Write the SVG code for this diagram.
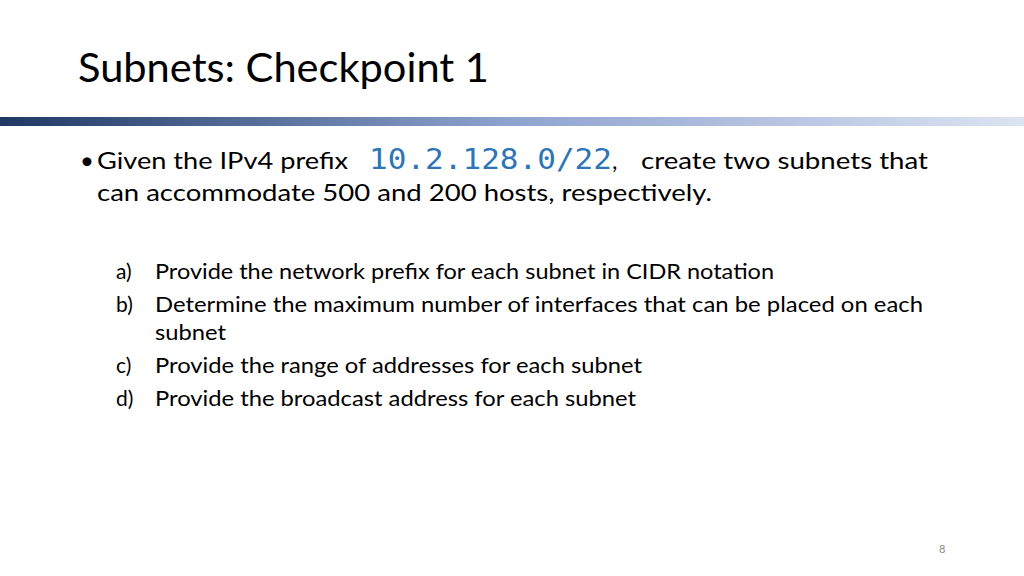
<svg xmlns="http://www.w3.org/2000/svg" width="1024" height="576" viewBox="0 0 1024 576">
<defs><linearGradient id="g" x1="0" x2="1"><stop offset="0" stop-color="#1F3864"/><stop offset="0.5" stop-color="#8FA3D0"/><stop offset="1" stop-color="#DCE3F2"/></linearGradient></defs>
<style>text{font-family:"Lato","Liberation Sans",sans-serif;fill:#000}.b{font-size:24px}.l{font-size:21px}.m{font-family:"DejaVu Sans Mono","Liberation Mono",monospace;font-size:28px;fill:#2E75B6}</style>
<rect width="1024" height="576" fill="#fff"/>
<text x="78" y="82" font-size="40" textLength="411" lengthAdjust="spacingAndGlyphs">Subnets: Checkpoint 1</text>
<rect x="0" y="117" width="1024" height="9" fill="url(#g)"/>
<text x="80" y="169" class="b">•</text>
<text x="97" y="169" class="b" textLength="251" lengthAdjust="spacingAndGlyphs">Given the IPv4 prefix</text>
<text x="369" y="169" class="m" textLength="243" lengthAdjust="spacingAndGlyphs">10.2.128.0/22</text>
<text x="612" y="169" class="b">,</text>
<text x="641" y="169" class="b" textLength="287" lengthAdjust="spacingAndGlyphs">create two subnets that</text>
<text x="97" y="201" class="b" textLength="615" lengthAdjust="spacingAndGlyphs">can accommodate 500 and 200 hosts, respectively.</text>
<text x="116" y="279" class="l">a)</text><text x="155" y="279" class="l" textLength="619" lengthAdjust="spacingAndGlyphs">Provide the network prefix for each subnet in CIDR notation</text>
<text x="116" y="312" class="l">b)</text><text x="155" y="312" class="l" textLength="768" lengthAdjust="spacingAndGlyphs">Determine the maximum number of interfaces that can be placed on each</text>
<text x="155" y="340" class="l" textLength="71" lengthAdjust="spacingAndGlyphs">subnet</text>
<text x="116" y="373" class="l">c)</text><text x="155" y="373" class="l" textLength="487" lengthAdjust="spacingAndGlyphs">Provide the range of addresses for each subnet</text>
<text x="116" y="406" class="l">d)</text><text x="155" y="406" class="l" textLength="481" lengthAdjust="spacingAndGlyphs">Provide the broadcast address for each subnet</text>
<text x="939" y="553" font-size="11" style="fill:#888">8</text>
</svg>
